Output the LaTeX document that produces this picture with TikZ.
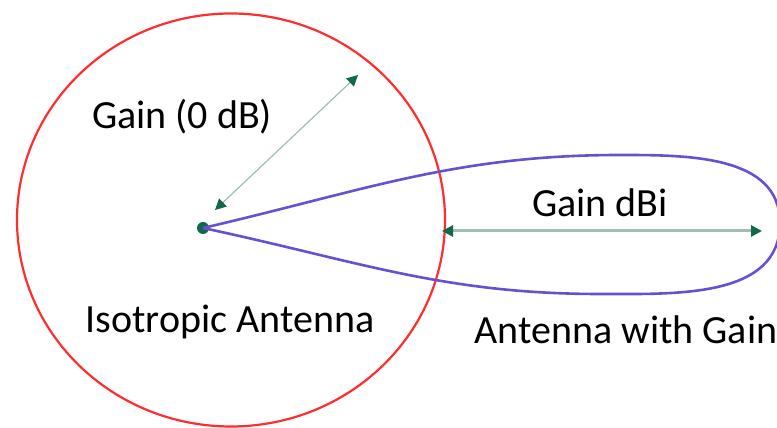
\documentclass[tikz,border=0pt]{standalone}
\usepackage{fontspec}
\setmainfont{Carlito}
\usepackage{tikz}
\usetikzlibrary{positioning,arrows.meta,calc}
\usepackage{xcolor}
\definecolor{isored}{RGB}{255,45,45}
\definecolor{lobeblue}{RGB}{105,80,210}
\definecolor{gainline}{RGB}{160,190,175}
\definecolor{gaintip}{RGB}{15,105,75}

\begin{document}
\begin{tikzpicture}[x=1pt,y=1pt,
  label/.style={font=\fontsize{40}{44}\selectfont,text=black,inner sep=0pt},
  gainarrow/.style={{Triangle[length=11pt,width=11pt,color=gaintip]}-{Triangle[length=11pt,width=11pt,color=gaintip]},gainline}
]
\useasboundingbox (0,0) rectangle (777,428);

% Left: isotropic antenna
\draw[isored,line width=2.2pt] (231,208) ellipse [x radius=214,y radius=206.5];
\node[circle,fill=gaintip,inner sep=0pt,minimum size=12pt] (feed) at (203,200) {};
\node[label] (isolbl) at (230,106) {Isotropic Antenna};
\node[label] (gain0) at (182,311) {Gain (0 dB)};

% Right: antenna with gain
\draw[lobeblue,line width=2.6pt] (feed.center) to[out=13,in=180] (620,273)
  to[out=0,in=90] (780,205) to[out=-90,in=0] (600,134) to[out=180,in=-12] (feed.center);
\node[label] (gainlbl) at (600,225) {Gain dBi};
\node[label] (lobelbl) at (626,98) {Antenna with Gain};

% Arrows
\coordinate (rimtip) at (358,353);
\coordinate (feedtip) at (215,218);
\draw[gainarrow,line width=1.2pt] (feedtip) -- (rimtip);
\coordinate (edgeL) at (442,197);
\coordinate (edgeR) at (762,197);
\draw[gainarrow,line width=3pt] (edgeL) -- (edgeR);

\end{tikzpicture}
\end{document}
